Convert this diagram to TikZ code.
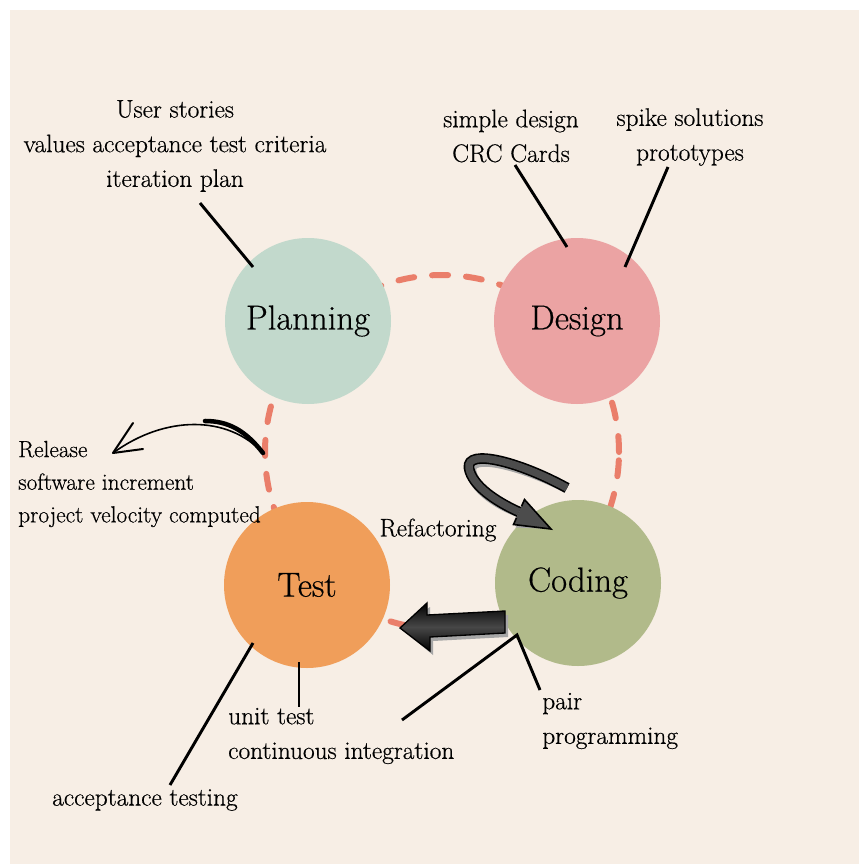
\documentclass[tikz,border=0pt]{standalone}
\usepackage{fontspec}
\setmainfont{Latin Modern Roman}[FakeBold=0.5]
\usetikzlibrary{arrows.meta}

\definecolor{paper}{HTML}{F7EEE5}
\definecolor{planc}{HTML}{C2D9CC}
\definecolor{designc}{HTML}{EBA3A3}
\definecolor{testc}{HTML}{F09E5A}
\definecolor{codec}{HTML}{B1BA8A}
\definecolor{dashred}{HTML}{EA7E6A}

\begin{document}
\begin{tikzpicture}[x=0.75pt, y=-0.75pt,
  phase/.style={circle, minimum size=124.5pt, inner sep=0pt, font=\fontsize{26}{30}\selectfont},
  note/.style={font=\fontsize{19}{26}\selectfont, align=center, inner sep=0pt},
  ring/.style={draw=dashred, line width=4.5pt, line cap=round, dash pattern=on 12pt off 13.5pt},
  stick/.style={line width=2.2pt}]

\useasboundingbox (0,0) rectangle (859,864);
\fill [paper] (10,10) rectangle (859,864);

% dashed loop behind the four phases
\draw [ring] (442,452) circle [radius=132.75pt];

\node [phase, fill=planc]   (plan)   at (308,321) {Planning};
\node [phase, fill=designc] (design) at (577,321) {Design};
\node [phase, fill=testc]   (test)   at (307,585) {Test};
\node [phase, fill=codec]   (coding) at (578,583) {Coding};

\node [note] (stories) at (175,146) {User stories\\values acceptance test criteria\\iteration plan};
\node [note] (simple)  at (511,136) {simple design\\CRC Cards};
\node [note] (spike)   at (690,137) {spike solutions\\prototypes};
\node [note, anchor=west, align=left, font=\fontsize{17.5}{24.5}\selectfont] (release) at (18,484) {Release\\software increment\\project velocity computed};
\node [note] (refac)   at (438,530) {Refactoring};
\node [note, anchor=west, align=left] (unit) at (228,736) {unit test\\continuous integration};
\node [note, anchor=west, align=left] (pair) at (542,721) {pair\\programming};
\node [note] (accept)  at (145,800) {acceptance testing};

% leader lines
\coordinate (A) at (200,203);
\coordinate (B) at (253,267);
\coordinate (C) at (515,165);
\coordinate (D) at (567,247);
\coordinate (E) at (668,167);
\coordinate (F) at (625,267);
\coordinate (G) at (253,643);
\coordinate (H) at (170,785);
\coordinate (I) at (299,662);
\coordinate (J) at (299,707);
\coordinate (K) at (402,720);
\coordinate (L) at (517,635);
\coordinate (M) at (540,690);

\draw [stick] (A)--(B);
\draw [stick] (C)--(D);
\draw [stick] (E)--(F);
\draw [stick] (G)--(H);
\draw [stick] (I)--(J);
\draw [stick] (K)--(L)--(M);

% release arrow, brush style
\coordinate (R1) at (263,453);
\coordinate (R2) at (113,453);
\draw [line width=1.2pt] (R1) .. controls (228,415) and (165,415) .. (R2);
\draw [line width=3.4pt, line cap=round] (R1) .. controls (245,430) and (228,421) .. (205,421);
\draw [line width=1.5pt, line cap=round, line join=round] (133,423) -- (R2) -- (143,449);

% refactoring loop arrow
\coordinate (T) at (567,488);
\coordinate (Q) at (519,512);
\coordinate (P) at (551,529);
\begin{scope}[shift={(2,3)}]
\draw [line width=8pt, black!35] (T) .. controls (520,462) and (466,448) .. (469,468) .. controls (472,486) and (497,502) .. (Q);
\fill [black!35] (513.5,524.5) -- (P) -- (524.5,499.5) -- cycle;
\end{scope}
\draw [line width=8pt, black] (T) .. controls (520,462) and (466,448) .. (469,468) .. controls (472,486) and (497,502) .. (Q);
\draw [line width=5.6pt, black!70] (T) .. controls (520,462) and (466,448) .. (469,468) .. controls (472,486) and (497,502) .. (Q);
\fill [black!70] (513.5,524.5) -- (P) -- (524.5,499.5) -- cycle;
\draw [line width=1.2pt, line join=miter] (516.5,517.7) -- (513.5,524.5) -- (P) -- (524.5,499.5) -- (521.5,506.3);

% block arrow from coding back to test
\coordinate (S) at (400,628);
\fill [black!35, shift={(3,4)}] (S) -- (427,603) -- (427,615) -- (505,611) -- (505,633) -- (430,637) -- (430,651) -- cycle;
\shadedraw [top color=black, bottom color=black, middle color=black!72, draw=black, line width=1pt]
  (S) -- (427,603) -- (427,615) -- (505,611) -- (505,633) -- (430,637) -- (430,651) -- cycle;

\end{tikzpicture}
\end{document}
